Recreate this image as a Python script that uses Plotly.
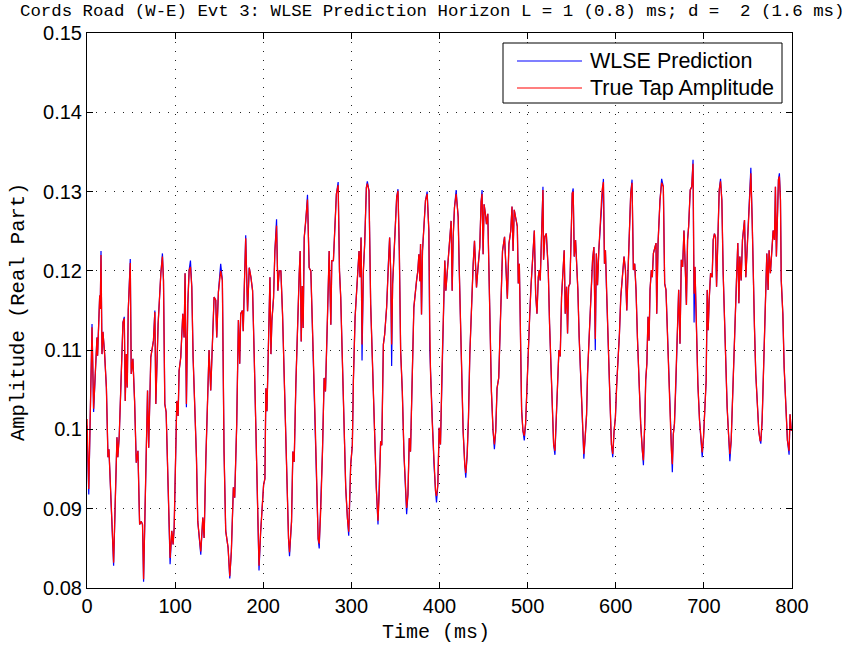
import plotly.graph_objects as go

# ---------------- data ----------------
time_ms = [
    0, 2, 5.7, 7.5, 11.3, 12, 14.4, 15, 15.9, 17, 18.1, 20, 22, 23.8, 24.9, 27.2, 30.2, 34, 35, 36.6,
    40.8, 42.3, 43.4, 44.6, 45.7, 46.8, 49.1, 50.2, 52.1, 54, 55.9, 57.8, 59.7, 61.6, 63, 64.2, 66.5, 68.7, 70, 72.4,
    75.4, 77, 78.1, 79.2, 80.7, 83.8, 85.6, 86.8, 88.3, 89.8, 91.3, 93.2, 94.3, 96.2, 97.7, 98.9, 100, 101.9, 103.4, 104.5,
    106.4, 108.7, 110.2, 111.3, 112.8, 114.4, 115.9, 117.4, 118.9, 120.4, 122.7, 124.2, 125.7, 127.2, 129.1, 131.4, 132.9, 134.8, 136.6, 138.5,
    140.4, 142.3, 144.2, 146.1, 147.2, 149.1, 151.7, 153.6, 155.5, 157.4, 160.1, 162, 163.8, 166.1, 167.6, 169.9, 171.8, 173.3, 174.4, 176.3,
    177.3, 178.5, 180.1, 182.2, 184.1, 186, 187.9, 189.8, 190.9, 192.1, 193.6, 195.2, 197, 200.4, 201.9, 203, 204.2, 206, 207.6, 208.7,
    209.8, 211.7, 213.2, 215.1, 216.6, 218.1, 220, 221.9, 223.8, 226.8, 228.7, 229.8, 232.1, 233.6, 235.1, 237, 238.9, 240.8, 241.9, 243.1,
    244.2, 245.3, 246.5, 248.3, 250.2, 252.1, 254, 255.1, 257, 258.5, 260.4, 262.3, 263.5, 265.3, 267.2, 269.1, 270.6, 272.9, 274.8, 276.7,
    277.8, 279.6, 281.1, 283, 285, 286.5, 287.9, 289.8, 291.7, 293.6, 295.5, 297, 299.2, 301.1, 302.3, 304.2, 306, 307.6, 308.7, 309.8,
    311, 312.1, 313.6, 315.1, 317, 318.1, 320, 321.9, 323.8, 324.9, 326.8, 328.3, 330.2, 331.7, 333.2, 334.5, 336.3, 337.8, 340, 341.9,
    343.4, 344.6, 345.7, 346.8, 348.3, 350.2, 351.4, 352.9, 354.4, 355.9, 357.8, 359.7, 361.6, 362.7, 364.2, 365.7, 367.1, 369, 370.9, 373.9,
    375.4, 376.6, 377.7, 378.5, 379.6, 380.7, 382.2, 384.1, 386, 387.9, 389, 389.8, 391.7, 393.6, 395.5, 396.6, 398.1, 399.6, 401.1, 403,
    404.9, 406, 407.2, 408.7, 410.2, 411.7, 413.2, 414.4, 415.5, 417, 418.9, 420, 421.2, 422.3, 423.8, 424.9, 426.8, 428.7, 429.8, 431.4,
    432.9, 434.4, 436.3, 438.2, 439.7, 440.8, 442, 443.4, 445.7, 447.2, 448.3, 449.5, 450.6, 452.1, 453.3, 454.8, 456.3, 457.8, 458.9, 460.8,
    462.3, 463.8, 465.3, 467.2, 469.1, 471.5, 473.8, 475.3, 477, 478.8, 480.8, 482.3, 483.5, 484.8, 486.5, 488.3, 489.4, 490.6, 491.7, 493.2,
    494.7, 496.2, 497.7, 499, 500.8, 502.3, 503.8, 506, 507.6, 509.1, 510.6, 512.1, 513.2, 514.3, 515.9, 517.4, 518.1, 519.6, 521.2, 523.4,
    524.9, 526.4, 528.3, 529.5, 531, 532.5, 534, 535.5, 537, 538.5, 540.4, 541.5, 542.7, 544.2, 545.3, 546.5, 548, 549.1, 550.6, 551.7,
    552.9, 554.4, 555.9, 557, 558.5, 560.4, 562.3, 563.8, 565.3, 566.9, 568, 569.9, 571.7, 573.7, 575.2, 576.8, 578, 579.3, 580.8, 583,
    584.5, 586, 587.2, 588.3, 589.4, 591.3, 593.6, 595.1, 596.6, 598.1, 599.6, 601.1, 602.6, 604.2, 605.7, 607.6, 609.4, 611, 612.5, 614,
    615.1, 617, 618.5, 620, 621.5, 623, 624.6, 626.4, 628.3, 630.2, 631.4, 632.9, 634, 635.3, 636.6, 637.8, 638.9, 640.4, 641.5, 642.7,
    644.2, 645.7, 646.5, 648, 650.2, 652.1, 654, 655.5, 657, 658.5, 660.1, 661.6, 663.1, 664.2, 665.3, 666.6, 668, 669.9, 671.4, 672.9,
    674.4, 675.9, 677.4, 679, 680.2, 681.5, 682.7, 684.5, 686.2, 687.7, 688.9, 689.9, 691.7, 693.2, 695.1, 697, 698.1, 699.6, 701.1, 702.6,
    703.8, 704.9, 706, 707.6, 709.4, 710.6, 712, 713.2, 714.4, 715.9, 717.4, 718.9, 720.4, 721.9, 723.4, 724.9, 726.4, 728, 729.5, 731,
    732.5, 734, 735.5, 737, 738.5, 739.7, 740.8, 742.3, 743.8, 744.9, 746.1, 747.6, 749.1, 751, 752.1, 753.3, 754.8, 755.9, 757.4, 758.9,
    760.4, 762.3, 763.8, 764.6, 766.1, 768, 769.9, 771.4, 772.9, 774, 775.5, 777.1, 778.6, 780.1, 781.2, 782.3, 783.5, 784.6, 785.7, 786.9,
    787.8, 789.6, 791.1, 793, 794.8, 796.7, 797.8, 799.2,
]

true_amp = [
    0.1013, 0.0925, 0.1129, 0.1026, 0.1116, 0.1093, 0.1169, 0.1152, 0.1220, 0.1095, 0.1123, 0.1095, 0.1053, 0.0965, 0.0975, 0.0914, 0.0832, 0.0990, 0.0965, 0.0992,
    0.1135, 0.1140, 0.1036, 0.1095, 0.1053, 0.1150, 0.1210, 0.1070, 0.1089, 0.1036, 0.0958, 0.0973, 0.0880, 0.0884, 0.0880, 0.0811, 0.0952, 0.1049, 0.0977, 0.1091,
    0.1112, 0.1148, 0.1032, 0.1085, 0.1133, 0.1197, 0.1218, 0.1188, 0.1032, 0.1022, 0.0956, 0.0872, 0.0838, 0.0872, 0.0855, 0.0876, 0.0948, 0.1036, 0.1017, 0.1074,
    0.1091, 0.1146, 0.1116, 0.1197, 0.1032, 0.1159, 0.1201, 0.1205, 0.1180, 0.1091, 0.1015, 0.0965, 0.0884, 0.0863, 0.0846, 0.0889, 0.0863, 0.0960, 0.1036, 0.1100,
    0.1049, 0.1121, 0.1167, 0.1163, 0.1116, 0.1173, 0.1200, 0.1188, 0.0973, 0.0872, 0.0851, 0.0815, 0.0846, 0.0927, 0.0914, 0.1007, 0.1138, 0.1083, 0.1146, 0.1150,
    0.1124, 0.1179, 0.1241, 0.1149, 0.1204, 0.1192, 0.1175, 0.1090, 0.1031, 0.0989, 0.0905, 0.0828, 0.0870, 0.0930, 0.0938, 0.1052, 0.1023, 0.1120, 0.1192, 0.1095,
    0.1137, 0.1166, 0.1225, 0.1257, 0.1175, 0.1200, 0.1200, 0.1145, 0.1056, 0.0947, 0.0862, 0.0845, 0.0884, 0.0972, 0.0959, 0.1057, 0.1141, 0.1196, 0.1225, 0.1111,
    0.1181, 0.1128, 0.1242, 0.1263, 0.1290, 0.1204, 0.1200, 0.1158, 0.1065, 0.1027, 0.0947, 0.0862, 0.0856, 0.0900, 0.0972, 0.1065, 0.1048, 0.1141, 0.1225, 0.1132,
    0.1213, 0.1213, 0.1259, 0.1297, 0.1308, 0.1200, 0.1167, 0.1073, 0.0989, 0.0926, 0.0888, 0.0871, 0.0955, 0.0980, 0.1062, 0.1141, 0.1175, 0.1208, 0.1225, 0.1192,
    0.1242, 0.1107, 0.1200, 0.1234, 0.1305, 0.1310, 0.1301, 0.1158, 0.1091, 0.1048, 0.0968, 0.0926, 0.0885, 0.0922, 0.0985, 0.0980, 0.1107, 0.1120, 0.1154, 0.1208,
    0.1242, 0.1200, 0.1107, 0.1183, 0.1221, 0.1276, 0.1293, 0.1301, 0.1225, 0.1099, 0.1048, 0.0968, 0.0922, 0.0901, 0.0918, 0.0989, 0.0972, 0.1073, 0.1154, 0.1187,
    0.1200, 0.1221, 0.1187, 0.1234, 0.1145, 0.1225, 0.1259, 0.1289, 0.1297, 0.1251, 0.1128, 0.1073, 0.1010, 0.0959, 0.0922, 0.0916, 0.0930, 0.1002, 0.0981, 0.1082,
    0.1166, 0.1213, 0.1175, 0.1200, 0.1221, 0.1246, 0.1263, 0.1175, 0.1242, 0.1280, 0.1297, 0.1284, 0.1268, 0.1208, 0.1137, 0.1052, 0.0998, 0.0955, 0.0945, 0.0968,
    0.1015, 0.1095, 0.1166, 0.1208, 0.1238, 0.1200, 0.1179, 0.1200, 0.1230, 0.1287, 0.1297, 0.1221, 0.1284, 0.1272, 0.1259, 0.1272, 0.1200, 0.1124, 0.1048, 0.0998,
    0.0981, 0.0998, 0.1052, 0.1065, 0.1141, 0.1225, 0.1243, 0.1210, 0.1165, 0.1234, 0.1250, 0.1281, 0.1225, 0.1277, 0.1266, 0.1256, 0.1184, 0.1209, 0.1133, 0.1024,
    0.0998, 0.0992, 0.1007, 0.1050, 0.1100, 0.1142, 0.1180, 0.1214, 0.1251, 0.1171, 0.1146, 0.1192, 0.1201, 0.1188, 0.1268, 0.1302, 0.1214, 0.1243, 0.1247, 0.1201,
    0.1133, 0.1074, 0.1007, 0.0981, 0.0973, 0.1024, 0.1057, 0.1100, 0.1092, 0.1167, 0.1205, 0.1226, 0.1146, 0.1180, 0.1121, 0.1180, 0.1184, 0.1235, 0.1298, 0.1300,
    0.1218, 0.1239, 0.1201, 0.1176, 0.1116, 0.1057, 0.0998, 0.0969, 0.0990, 0.1019, 0.1070, 0.1116, 0.1171, 0.1214, 0.1230, 0.1114, 0.1222, 0.1182, 0.1226, 0.1268,
    0.1302, 0.1312, 0.1209, 0.1226, 0.1180, 0.1100, 0.1032, 0.0981, 0.0969, 0.0998, 0.1015, 0.1057, 0.1083, 0.1121, 0.1167, 0.1197, 0.1218, 0.1201, 0.1150, 0.1201,
    0.1247, 0.1298, 0.1311, 0.1201, 0.1209, 0.1176, 0.1116, 0.1057, 0.1007, 0.0973, 0.0961, 0.1007, 0.1062, 0.1083, 0.1142, 0.1112, 0.1176, 0.1201, 0.1192, 0.1222,
    0.1230, 0.1235, 0.1146, 0.1235, 0.1289, 0.1311, 0.1306, 0.1184, 0.1176, 0.1129, 0.1057, 0.1007, 0.0973, 0.0956, 0.0994, 0.1007, 0.1049, 0.1121, 0.1176, 0.1108,
    0.1214, 0.1205, 0.1251, 0.1200, 0.1157, 0.1239, 0.1256, 0.1302, 0.1306, 0.1335, 0.1171, 0.1205, 0.1104, 0.1057, 0.1011, 0.0981, 0.0971, 0.0990, 0.1028, 0.1062,
    0.1176, 0.1125, 0.1163, 0.1197, 0.1192, 0.1239, 0.1247, 0.1243, 0.1180, 0.1239, 0.1302, 0.1313, 0.1289, 0.1197, 0.1129, 0.1070, 0.1028, 0.0994, 0.0969, 0.0986,
    0.1040, 0.1091, 0.1163, 0.1188, 0.1235, 0.1159, 0.1218, 0.1188, 0.1239, 0.1251, 0.1264, 0.1192, 0.1226, 0.1281, 0.1311, 0.1323, 0.1264, 0.1184, 0.1129, 0.1070,
    0.1036, 0.0998, 0.0986, 0.0986, 0.1011, 0.1095, 0.1146, 0.1222, 0.1176, 0.1226, 0.1197, 0.1230, 0.1251, 0.1239, 0.1306, 0.1218, 0.1298, 0.1315, 0.1319, 0.1289,
    0.1188, 0.1146, 0.1078, 0.1019, 0.0986, 0.0973, 0.1019, 0.0998,
]

wlse_pred = [
    0.1005, 0.0918, 0.1133, 0.1022, 0.1116, 0.1093, 0.1169, 0.1152, 0.1225, 0.1095, 0.1123, 0.1095, 0.1053, 0.0965, 0.0975, 0.0914, 0.0828, 0.0990, 0.0965, 0.0992,
    0.1135, 0.1142, 0.1036, 0.1095, 0.1053, 0.1150, 0.1215, 0.1070, 0.1089, 0.1036, 0.0958, 0.0973, 0.0880, 0.0884, 0.0880, 0.0808, 0.0952, 0.1049, 0.0977, 0.1091,
    0.1112, 0.1150, 0.1032, 0.1085, 0.1133, 0.1197, 0.1222, 0.1188, 0.1032, 0.1022, 0.0956, 0.0872, 0.0830, 0.0872, 0.0855, 0.0876, 0.0948, 0.1036, 0.1017, 0.1074,
    0.1091, 0.1146, 0.1116, 0.1197, 0.1028, 0.1159, 0.1201, 0.1213, 0.1180, 0.1091, 0.1015, 0.0965, 0.0884, 0.0863, 0.0842, 0.0889, 0.0863, 0.0960, 0.1036, 0.1100,
    0.1049, 0.1121, 0.1167, 0.1163, 0.1116, 0.1173, 0.1209, 0.1188, 0.0973, 0.0872, 0.0851, 0.0812, 0.0846, 0.0927, 0.0914, 0.1007, 0.1138, 0.1083, 0.1146, 0.1150,
    0.1124, 0.1179, 0.1245, 0.1149, 0.1204, 0.1192, 0.1175, 0.1090, 0.1031, 0.0989, 0.0905, 0.0822, 0.0870, 0.0930, 0.0938, 0.1052, 0.1023, 0.1120, 0.1192, 0.1095,
    0.1137, 0.1166, 0.1225, 0.1265, 0.1175, 0.1200, 0.1200, 0.1145, 0.1056, 0.0947, 0.0862, 0.0840, 0.0884, 0.0972, 0.0959, 0.1057, 0.1141, 0.1196, 0.1225, 0.1111,
    0.1181, 0.1128, 0.1242, 0.1263, 0.1296, 0.1204, 0.1200, 0.1158, 0.1065, 0.1027, 0.0947, 0.0862, 0.0850, 0.0900, 0.0972, 0.1065, 0.1048, 0.1141, 0.1225, 0.1132,
    0.1213, 0.1213, 0.1259, 0.1297, 0.1312, 0.1200, 0.1167, 0.1073, 0.0989, 0.0926, 0.0888, 0.0866, 0.0955, 0.0980, 0.1062, 0.1141, 0.1175, 0.1208, 0.1225, 0.1192,
    0.1242, 0.1087, 0.1200, 0.1234, 0.1305, 0.1313, 0.1301, 0.1158, 0.1091, 0.1048, 0.0968, 0.0926, 0.0880, 0.0922, 0.0985, 0.0980, 0.1107, 0.1120, 0.1154, 0.1208,
    0.1242, 0.1200, 0.1080, 0.1183, 0.1221, 0.1276, 0.1293, 0.1303, 0.1225, 0.1099, 0.1048, 0.0968, 0.0922, 0.0893, 0.0918, 0.0989, 0.0972, 0.1073, 0.1154, 0.1187,
    0.1200, 0.1221, 0.1187, 0.1234, 0.1145, 0.1225, 0.1259, 0.1289, 0.1300, 0.1251, 0.1100, 0.1073, 0.1010, 0.0959, 0.0922, 0.0908, 0.0930, 0.1002, 0.0981, 0.1082,
    0.1166, 0.1213, 0.1175, 0.1200, 0.1221, 0.1246, 0.1263, 0.1175, 0.1242, 0.1280, 0.1302, 0.1284, 0.1268, 0.1208, 0.1137, 0.1052, 0.0998, 0.0955, 0.0939, 0.0968,
    0.1015, 0.1095, 0.1166, 0.1208, 0.1238, 0.1200, 0.1179, 0.1200, 0.1230, 0.1287, 0.1302, 0.1221, 0.1284, 0.1272, 0.1259, 0.1272, 0.1200, 0.1124, 0.1048, 0.0998,
    0.0975, 0.0998, 0.1052, 0.1065, 0.1141, 0.1225, 0.1243, 0.1210, 0.1165, 0.1234, 0.1250, 0.1281, 0.1225, 0.1277, 0.1266, 0.1256, 0.1184, 0.1209, 0.1133, 0.1024,
    0.0998, 0.0986, 0.1007, 0.1050, 0.1100, 0.1142, 0.1180, 0.1214, 0.1251, 0.1171, 0.1146, 0.1192, 0.1201, 0.1188, 0.1268, 0.1306, 0.1214, 0.1243, 0.1247, 0.1201,
    0.1133, 0.1074, 0.1007, 0.0981, 0.0968, 0.1024, 0.1057, 0.1100, 0.1092, 0.1167, 0.1205, 0.1226, 0.1146, 0.1180, 0.1121, 0.1180, 0.1184, 0.1235, 0.1298, 0.1304,
    0.1218, 0.1239, 0.1201, 0.1176, 0.1116, 0.1057, 0.0998, 0.0963, 0.0990, 0.1019, 0.1070, 0.1116, 0.1171, 0.1214, 0.1230, 0.1100, 0.1222, 0.1182, 0.1226, 0.1268,
    0.1302, 0.1316, 0.1209, 0.1226, 0.1180, 0.1100, 0.1032, 0.0981, 0.0965, 0.0998, 0.1015, 0.1057, 0.1083, 0.1121, 0.1167, 0.1197, 0.1218, 0.1201, 0.1150, 0.1201,
    0.1247, 0.1298, 0.1315, 0.1201, 0.1209, 0.1176, 0.1116, 0.1057, 0.1007, 0.0973, 0.0955, 0.1007, 0.1062, 0.1083, 0.1142, 0.1112, 0.1176, 0.1201, 0.1192, 0.1222,
    0.1230, 0.1235, 0.1146, 0.1235, 0.1289, 0.1316, 0.1306, 0.1184, 0.1176, 0.1129, 0.1057, 0.1007, 0.0973, 0.0946, 0.0994, 0.1007, 0.1049, 0.1121, 0.1176, 0.1108,
    0.1214, 0.1205, 0.1251, 0.1200, 0.1157, 0.1239, 0.1256, 0.1302, 0.1306, 0.1340, 0.1135, 0.1205, 0.1104, 0.1057, 0.1011, 0.0981, 0.0965, 0.0990, 0.1028, 0.1062,
    0.1176, 0.1125, 0.1163, 0.1197, 0.1192, 0.1239, 0.1247, 0.1243, 0.1180, 0.1239, 0.1302, 0.1316, 0.1289, 0.1197, 0.1129, 0.1070, 0.1028, 0.0994, 0.0960, 0.0986,
    0.1040, 0.1091, 0.1163, 0.1188, 0.1235, 0.1159, 0.1218, 0.1188, 0.1239, 0.1251, 0.1264, 0.1192, 0.1226, 0.1281, 0.1311, 0.1330, 0.1264, 0.1184, 0.1129, 0.1070,
    0.1036, 0.0998, 0.0986, 0.0982, 0.1011, 0.1095, 0.1146, 0.1222, 0.1176, 0.1226, 0.1197, 0.1230, 0.1251, 0.1239, 0.1306, 0.1218, 0.1298, 0.1315, 0.1323, 0.1289,
    0.1188, 0.1146, 0.1078, 0.1019, 0.0986, 0.0968, 0.1019, 0.0998,
]

y_tick_vals = [0.08, 0.09, 0.10, 0.11, 0.12, 0.13, 0.14, 0.15]
y_tick_text = ["0.08", "0.09", "0.1", "0.11", "0.12", "0.13", "0.14", "0.15"]
x_tick_vals = [0, 100, 200, 300, 400, 500, 600, 700, 800]

series_names = ["WLSE Prediction", "True Tap Amplitude"]
series_colors = ["#0000ff", "#ff0000"]

title_text = "Cords Road (W-E) Evt 3: WLSE Prediction Horizon L = 1 (0.8) ms; d =\u00a0 2 (1.6 ms)"
x_title = "Time (ms)"
y_title = "Amplitude (Real Part)"

assert len(time_ms) == len(true_amp) == len(wlse_pred)

# ---------------- layout geometry (pixels) ----------------
W, H = 847, 646
L, R, T, B = 87, 792, 33, 588          # plot-area box
pw, ph = R - L, B - T

def px(x):
    return (x - L) / pw

def py(y):
    return (B - y) / ph

SANS = "Liberation Sans, Arial, Helvetica, sans-serif"
MONO = "Liberation Mono, Courier New, monospace"

fig = go.Figure()
fig.add_trace(go.Scatter(x=time_ms, y=wlse_pred, mode="lines", name=series_names[0],
                         line=dict(color=series_colors[0], width=1.2), showlegend=False))
fig.add_trace(go.Scatter(x=time_ms, y=true_amp, mode="lines", name=series_names[1],
                         line=dict(color=series_colors[1], width=1.3), showlegend=False))

axis_common = dict(showline=True, linecolor="black", linewidth=1, mirror="allticks",
                   ticks="inside", ticklen=6, tickcolor="black", showgrid=True,
                   gridcolor="#222222", gridwidth=1, griddash="1px,8px", zeroline=False,
                   tickfont=dict(family=SANS, size=20, color="black"), automargin=False)

fig.update_layout(
    width=W, height=H,
    margin=dict(l=L, r=W - R, t=T, b=H - B, pad=0),
    paper_bgcolor="white", plot_bgcolor="white",
    xaxis=dict(range=[0, 800], tickvals=x_tick_vals, **axis_common),
    yaxis=dict(range=[0.08, 0.15], tickvals=y_tick_vals, ticktext=y_tick_text, **axis_common),
    showlegend=False,
)

annotations = [
    dict(text=title_text, x=px(432), y=py(12), xref="paper", yref="paper",
         xanchor="center", yanchor="middle", showarrow=False,
         font=dict(family=MONO, size=17.4, color="black")),
    dict(text=x_title, x=px(436), y=py(632), xref="paper", yref="paper",
         xanchor="center", yanchor="middle", showarrow=False,
         font=dict(family=MONO, size=20, color="black")),
    dict(text=y_title, x=px(18), y=py(312), xref="paper", yref="paper",
         xanchor="center", yanchor="middle", showarrow=False, textangle=-90,
         font=dict(family=MONO, size=20.5, color="black")),
]

# manual MATLAB-style legend
leg_x0, leg_x1, leg_y0, leg_y1 = 503, 782, 43, 103
shapes = [dict(type="rect", xref="paper", yref="paper",
               x0=px(leg_x0), x1=px(leg_x1), y0=py(leg_y1), y1=py(leg_y0),
               line=dict(color="black", width=1), fillcolor="white", layer="above")]
row_y = [61, 88]
for name, color, yy in zip(series_names, series_colors, row_y):
    shapes.append(dict(type="line", xref="paper", yref="paper",
                       x0=px(517), x1=px(582), y0=py(yy), y1=py(yy),
                       line=dict(color=color, width=1.2), layer="above"))
    annotations.append(dict(text=name, x=px(588), y=py(yy), xref="paper", yref="paper",
                            xanchor="left", yanchor="middle", showarrow=False,
                            font=dict(family=SANS, size=21.5, color="black")))

fig.update_layout(annotations=annotations, shapes=shapes)
fig.write_html("out.html")
